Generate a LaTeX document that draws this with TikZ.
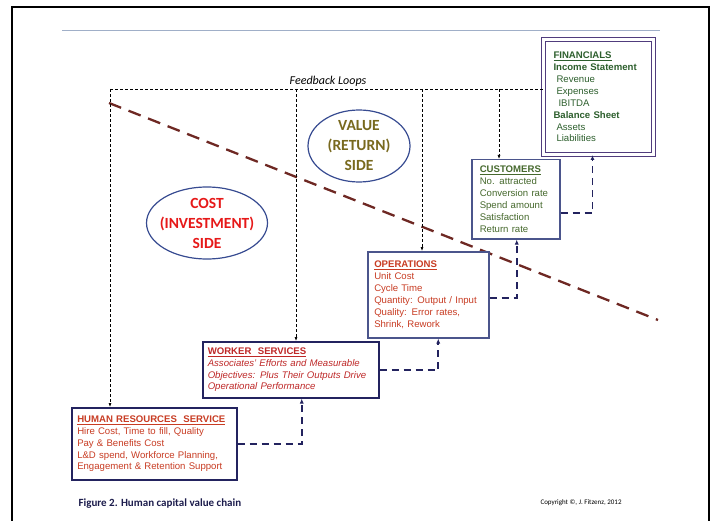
\documentclass[tikz,border=0pt]{standalone}
\usepackage{fontspec}
\setmainfont{Liberation Sans}
\newfontfamily\calfont{Carlito}
\usetikzlibrary{arrows.meta,positioning,calc,shapes.geometric}
\definecolor{framenavy}{RGB}{35,35,95}
\definecolor{boxblue}{RGB}{75,85,140}
\definecolor{finpurple}{RGB}{80,60,125}
\definecolor{brickred}{RGB}{200,60,35}
\definecolor{workred}{RGB}{190,40,40}
\definecolor{custgreen}{RGB}{70,105,45}
\definecolor{fingreen}{RGB}{45,95,45}
\definecolor{costred}{RGB}{230,25,25}
\definecolor{valueolive}{RGB}{120,105,30}
\definecolor{ringblue}{RGB}{55,75,145}
\definecolor{slopebrown}{RGB}{110,40,35}
\definecolor{rulegray}{RGB}{160,175,200}
\newcommand{\boxtitle}[1]{{\bfseries\underline{#1}}}
\tikzset{
  stagebox/.style={draw,fill=white,line width=1.5pt,align=left,anchor=north west,inner ysep=4pt,font=\fontsize{9.6}{11.9}\selectfont},
  sidering/.style={ellipse,draw=ringblue,line width=1.2pt,inner sep=0pt},
  sidetext/.style={align=center,font=\calfont\bfseries\fontsize{15.5}{20}\selectfont},
  fwd/.style={-{Latex[length=5pt,width=4pt]},line width=1.8pt,draw=framenavy,dash pattern=on 7pt off 5pt},
  fbline/.style={line width=0.6pt,dash pattern=on 3pt off 2pt},
  fbarrow/.style={fbline,-{Latex[length=4pt,width=3pt]}},
  slopeline/.style={line width=2.3pt,draw=slopebrown,dash pattern=on 13pt off 8pt}
}
\begin{document}
\begin{tikzpicture}[x=1pt,y=-1pt]
  \useasboundingbox (0,0) rectangle (711,521);

  \draw[line width=1.2pt] (12,521) -- (12,7) -- (709,7) -- (709,521);
  \draw[rulegray,line width=1pt] (62,31) -- (660,31);

  \draw[slopeline] (109,103) -- (658,320);

  \node[sidering,minimum width=121pt,minimum height=72pt] (cost) at (207,223) {};
  \node[sidetext,text=costred] (costtext) at (cost) {COST\\(INVESTMENT)\\SIDE};

  \node[sidering,minimum width=102pt,minimum height=72pt] (value) at (359,146) {};
  \node[sidetext,text=valueolive] (valuetext) at (value) {VALUE\\(RETURN)\\SIDE};

  \node[stagebox,draw=framenavy,text=brickred,inner xsep=5.5pt,text width=154pt,minimum height=72pt] (hr) at (71,407)
    {\boxtitle{HUMAN RESOURCES~ SERVICE}\\Hire Cost, Time to fill, Quality\\Pay \& Benefits Cost\\L\&D spend, Workforce Planning,\\Engagement \& Retention Support};

  \node[stagebox,draw=framenavy,text=workred,inner xsep=5pt,text width=166pt,minimum height=56pt] (work) at (202,341)
    {\boxtitle{WORKER~ SERVICES}\\\itshape Associates' Efforts and Measurable\\\itshape Objectives: Plus Their Outputs Drive\\\itshape Operational Performance};

  \node[stagebox,draw=boxblue,text=brickred,inner xsep=6.5pt,text width=108pt,minimum height=86pt] (ops) at (367,251)
    {\boxtitle{OPERATIONS}\\Unit Cost\\Cycle Time\\Quantity: Output / Input\\Quality: Error rates,\\Shrink, Rework};

  \node[stagebox,draw=boxblue,text=custgreen,inner xsep=8pt,text width=72pt,minimum height=79pt] (cust) at (471,159)
    {\boxtitle{CUSTOMERS}\\No. attracted\\Conversion rate\\Spend amount\\Satisfaction\\Return rate};

  \node[stagebox,draw=finpurple,double=white,double distance=2.2pt,line width=1pt,text=fingreen,inner xsep=10pt,text width=90pt,minimum height=115pt] (fin) at (543,39)
    {\boxtitle{FINANCIALS}\\\textbf{Income Statement}\\\hspace*{3pt}Revenue\\\hspace*{3pt}Expenses\\\hspace*{5pt}IBITDA\\\textbf{Balance Sheet}\\\hspace*{3pt}Assets\\\hspace*{3pt}Liabilities};

  \coordinate (fbhr) at (110,89);
  \coordinate (fbwork) at (296,89);
  \coordinate (fbops) at (422,89);
  \coordinate (fbcust) at (499,89);

  \draw[fbline] (fbhr) -- (fbhr -| fin.west);
  \node[font=\calfont\itshape\fontsize{12}{14}\selectfont] (fblabel) at (328,81) {Feedback Loops};

  \foreach \c/\b in {fbhr/hr,fbwork/work,fbops/ops,fbcust/cust}{
    \draw[fbarrow] (\c) -- (\c |- \b.north);
  }

  \draw[fwd] (hr.east) -| ([xshift=11pt]work.south);
  \draw[fwd] (work.east) -| ([xshift=10pt]ops.south);
  \draw[fwd] ([yshift=-3pt]ops.east) -| ([xshift=1pt]cust.south);
  \draw[fwd] ([yshift=-14pt]cust.east) -| ([xshift=-6pt]fin.south);

  \node[anchor=west,font=\calfont\bfseries\fontsize{11}{13}\selectfont,text=framenavy!80!black] (caption) at (75,504) {Figure 2. Human capital value chain};
  \node[anchor=west,font=\calfont\fontsize{7}{9}\selectfont] (copy) at (537,503) {Copyright \textcopyright, J. Fitzenz, 2012};

\end{tikzpicture}
\end{document}
